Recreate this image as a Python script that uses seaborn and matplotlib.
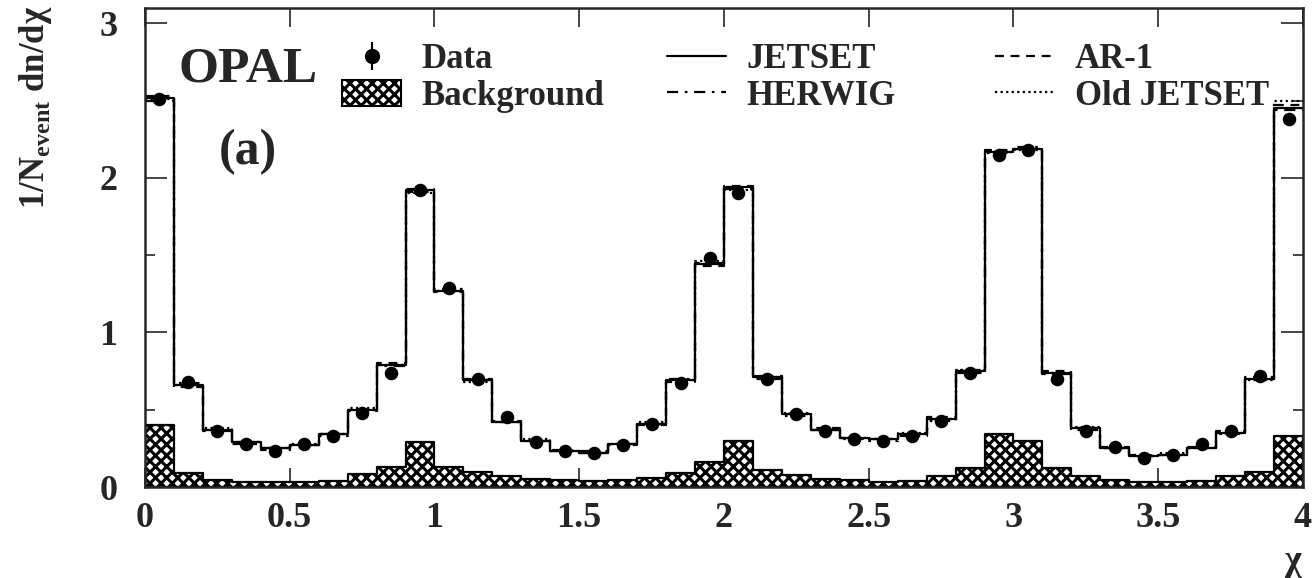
import numpy as np
import seaborn as sns
import matplotlib.pyplot as plt
from matplotlib.patches import Patch
from matplotlib.lines import Line2D
from matplotlib.legend_handler import HandlerTuple
from matplotlib.ticker import MultipleLocator

# -----------------------------
# DATA (40 bins of width 0.1 in chi)
# -----------------------------

chi_edges = [round(0.1 * i, 1) for i in range(41)]

data_vals = [2.51, 0.68, 0.36, 0.28, 0.23, 0.28, 0.33, 0.48, 0.74, 1.92,
             1.29, 0.70, 0.45, 0.29, 0.23, 0.22, 0.27, 0.41, 0.67, 1.48,
             1.90, 0.70, 0.47, 0.36, 0.31, 0.30, 0.33, 0.43, 0.74, 2.15,
             2.18, 0.70, 0.36, 0.26, 0.19, 0.21, 0.28, 0.36, 0.72, 2.38]
data_err = [0.03, 0.01, 0.01, 0.01, 0.01, 0.01, 0.01, 0.01, 0.01, 0.02,
            0.02, 0.01, 0.01, 0.01, 0.01, 0.01, 0.01, 0.01, 0.01, 0.02,
            0.02, 0.01, 0.01, 0.01, 0.01, 0.01, 0.01, 0.01, 0.01, 0.02,
            0.02, 0.01, 0.01, 0.01, 0.01, 0.01, 0.01, 0.01, 0.01, 0.03]

background = [0.40, 0.09, 0.045, 0.035, 0.03, 0.03, 0.04, 0.085, 0.13, 0.29,
              0.13, 0.095, 0.07, 0.055, 0.045, 0.04, 0.045, 0.06, 0.09, 0.16,
              0.30, 0.11, 0.075, 0.055, 0.045, 0.035, 0.04, 0.07, 0.12, 0.34,
              0.30, 0.12, 0.07, 0.045, 0.035, 0.035, 0.04, 0.07, 0.10, 0.33]

jetset = [2.52, 0.66, 0.37, 0.29, 0.25, 0.27, 0.34, 0.50, 0.79, 1.92,
          1.27, 0.69, 0.42, 0.30, 0.23, 0.22, 0.28, 0.41, 0.69, 1.44,
          1.94, 0.71, 0.47, 0.37, 0.32, 0.31, 0.34, 0.44, 0.75, 2.17,
          2.19, 0.74, 0.38, 0.25, 0.20, 0.21, 0.25, 0.35, 0.70, 2.45]
herwig = [2.50, 0.67, 0.36, 0.29, 0.25, 0.27, 0.33, 0.49, 0.78, 1.93,
          1.28, 0.70, 0.42, 0.30, 0.24, 0.23, 0.28, 0.40, 0.70, 1.45,
          1.93, 0.72, 0.46, 0.37, 0.31, 0.30, 0.33, 0.43, 0.76, 2.16,
          2.20, 0.73, 0.37, 0.26, 0.20, 0.21, 0.26, 0.34, 0.71, 2.44]
ar1 = [2.53, 0.65, 0.37, 0.28, 0.24, 0.27, 0.34, 0.50, 0.80, 1.91,
       1.26, 0.69, 0.43, 0.30, 0.23, 0.22, 0.27, 0.41, 0.68, 1.43,
       1.95, 0.70, 0.47, 0.38, 0.32, 0.31, 0.34, 0.45, 0.74, 2.18,
       2.19, 0.75, 0.38, 0.25, 0.21, 0.21, 0.25, 0.36, 0.70, 2.47]
old_jetset = [2.51, 0.66, 0.38, 0.29, 0.25, 0.28, 0.34, 0.51, 0.79, 1.90,
              1.27, 0.68, 0.42, 0.31, 0.23, 0.22, 0.28, 0.42, 0.69, 1.46,
              1.92, 0.71, 0.48, 0.37, 0.32, 0.31, 0.35, 0.44, 0.76, 2.17,
              2.18, 0.74, 0.39, 0.25, 0.20, 0.22, 0.25, 0.35, 0.69, 2.50]

edges_arr = np.array(chi_edges)
chi_centers = 0.5 * (edges_arr[:-1] + edges_arr[1:])

# -----------------------------
# STYLE
# -----------------------------

sns.set_style("ticks")
plt.rcParams["font.family"] = ["Liberation Serif", "DejaVu Serif"]
plt.rcParams["font.weight"] = "bold"
plt.rcParams["mathtext.fontset"] = "custom"
plt.rcParams["mathtext.rm"] = "Liberation Serif:bold"
plt.rcParams["mathtext.bf"] = "Liberation Serif:bold"
plt.rcParams["hatch.linewidth"] = 2.2

fig = plt.figure(figsize=(13.12, 5.78), dpi=100)
ax = fig.add_axes([145 / 1312, 1 - 487 / 578, 1158 / 1312, 479 / 578])

# -----------------------------
# HISTOGRAMS
# -----------------------------

sns.histplot(x=chi_centers, weights=background, bins=chi_edges, element="step",
             fill=True, facecolor="white", edgecolor="black", hatch="xxx",
             linewidth=1.6, ax=ax, zorder=1)

models = [(jetset, "-"), (herwig, (0, (5, 3, 1.2, 3))),
          (ar1, (0, (4, 3))), (old_jetset, (0, (1, 1.5)))]
for vals, ls in models:
    sns.histplot(x=chi_centers, weights=vals, bins=chi_edges, element="step",
                 fill=False, color="black", linewidth=1.6, linestyle=ls,
                 ax=ax, zorder=2)

ax.errorbar(chi_centers, data_vals, yerr=data_err, fmt="none",
            ecolor="black", elinewidth=1.5, zorder=4)
sns.scatterplot(x=chi_centers, y=data_vals, color="black", s=95,
                edgecolor="black", linewidth=0, ax=ax, zorder=5)

# -----------------------------
# AXES
# -----------------------------

ax.set_xlim(0, 4)
ax.set_ylim(0, 3.1)
ax.set_xlabel("")
ax.set_ylabel("")
ax.yaxis.set_major_locator(MultipleLocator(1))
ax.yaxis.set_minor_locator(MultipleLocator(0.5))
ax.set_xticks([0, 0.5, 1, 1.5, 2, 2.5, 3, 3.5, 4])
ax.set_xticklabels(["0", "0.5", "1", "1.5", "2", "2.5", "3", "3.5", "4"])
ax.tick_params(axis="both", which="both", direction="in", top=True, right=True,
               width=1.2, labelsize=26)
ax.tick_params(axis="x", which="major", length=14, pad=11)
ax.tick_params(axis="y", which="major", length=16, pad=20)
ax.tick_params(axis="y", which="minor", length=7)
for lab in ax.get_xticklabels() + ax.get_yticklabels():
    lab.set_fontweight("bold")
for sp in ax.spines.values():
    sp.set_linewidth(1.8)

fig.text(36 / 1312, 1 - 107 / 578, "1/N$_{\\mathregular{event}}$ dn/d\u03c7",
         rotation=90, ha="center", va="center", fontsize=25, fontweight="bold")
fig.text(1293 / 1312, 1 - 561 / 578, "\u03c7", ha="center", va="center",
         fontsize=26, fontweight="bold")
fig.text(248 / 1312, 1 - 70 / 578, "OPAL", ha="center", va="center",
         fontsize=37, fontweight="bold")
fig.text(248 / 1312, 1 - 152 / 578, "(a)", ha="center", va="center",
         fontsize=36, fontweight="bold")

# -----------------------------
# LEGEND (three columns)
# -----------------------------

leg_font = dict(family="Liberation Serif", weight="bold", size=25)
leg_opts = dict(frameon=False, prop=leg_font, loc="upper left", borderpad=0,
                borderaxespad=0, handlelength=1.7, handleheight=0.8,
                handletextpad=0.6, labelspacing=0.1,
                bbox_transform=fig.transFigure)

data_handle = (Line2D([], [], color="black", marker="|", markersize=20,
                      markeredgewidth=1.5, linestyle="none"),
               Line2D([], [], color="black", marker="o", markersize=10,
                      linestyle="none"))
bkg_handle = Patch(facecolor="white", edgecolor="black", hatch="xxx", linewidth=1.5)

top_y = 1 - 43 / 578

leg1 = ax.legend([data_handle, bkg_handle], ["Data", "Background"],
                 handler_map={tuple: HandlerTuple(ndivide=1)},
                 bbox_to_anchor=(342 / 1312, top_y), **leg_opts)
ax.add_artist(leg1)

leg2 = ax.legend([Line2D([], [], color="black", lw=1.6, ls="-"),
                  Line2D([], [], color="black", lw=1.6, ls=(0, (5, 3, 1.2, 3)))],
                 ["JETSET", "HERWIG"],
                 bbox_to_anchor=(667 / 1312, top_y), **leg_opts)
ax.add_artist(leg2)

leg3 = ax.legend([Line2D([], [], color="black", lw=1.6, ls=(0, (4, 3))),
                  Line2D([], [], color="black", lw=1.6, ls=(0, (1, 1.5)))],
                 ["AR-1", "Old JETSET"],
                 bbox_to_anchor=(995 / 1312, top_y), **leg_opts)

fig.savefig("out.png", dpi=100)
